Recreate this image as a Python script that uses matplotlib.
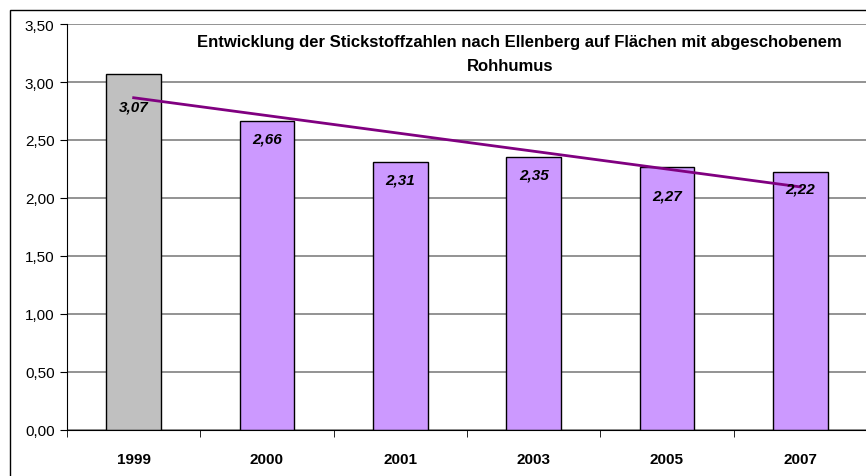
import numpy as np
import matplotlib.pyplot as plt
from matplotlib.patches import Rectangle

years = ['1999', '2000', '2001', '2003', '2005', '2007']
values = [3.07, 2.66, 2.31, 2.35, 2.27, 2.22]
bar_colors = ['#C0C0C0', '#CC99FF', '#CC99FF', '#CC99FF', '#CC99FF', '#CC99FF']
# how far (in data units) each label sits below the top of its bar
label_drop = [0.285, 0.15, 0.15, 0.15, 0.25, 0.14]
yticks = [0.0, 0.5, 1.0, 1.5, 2.0, 2.5, 3.0, 3.5]

plt.rcParams['font.family'] = ['Liberation Sans', 'DejaVu Sans']

fig = plt.figure(figsize=(8.66, 4.77), dpi=100)
ax = fig.add_axes([67/866, 46/477, 800/866, 406/477])

x = np.arange(len(years))
ax.bar(x, values, width=0.41, color=bar_colors, edgecolor='black', linewidth=1, zorder=2)

# linear trend line over the bars
k, d = np.polyfit(x, values, 1)
ax.plot(x, k*x + d, color='#800080', linewidth=2, zorder=3)

for xi, v, dr in zip(x, values, label_drop):
    ax.text(xi, v - dr, f'{v:.2f}'.replace('.', ','), ha='center', va='center',
            fontsize=11, fontweight='bold', fontstyle='italic', zorder=4)

ax.set_xlim(-0.5, len(years) - 0.5)
ax.set_ylim(0, 3.5)
ax.set_yticks(yticks)
ax.set_yticklabels([f'{t:.2f}'.replace('.', ',') for t in yticks], fontsize=11)
ax.set_xticks(x)
ax.set_xticklabels(years, fontsize=11, fontweight='bold')
ax.tick_params(axis='x', length=0, pad=16)
ax.set_xticks(np.arange(len(years) + 1) - 0.5, minor=True)
ax.tick_params(axis='x', which='minor', length=5, direction='out', color='black')
ax.tick_params(axis='y', length=5, direction='out', pad=4)
ax.yaxis.grid(True, color='#808080', linewidth=1.2, zorder=0)
ax.set_axisbelow(True)
for s in ['top', 'right']:
    ax.spines[s].set_visible(False)
ax.spines['left'].set_color('black')
ax.spines['bottom'].set_color('black')

ax.text(0.566, 0.956, 'Entwicklung der Stickstoffzahlen nach Ellenberg auf Flächen mit abgeschobenem',
        transform=ax.transAxes, ha='center', va='center', fontsize=12, fontweight='bold')
ax.text(0.554, 0.897, 'Rohhumus',
        transform=ax.transAxes, ha='center', va='center', fontsize=12, fontweight='bold')

# outer chart frame
fig.patches.append(Rectangle((10/866, -0.2), 2, 1.2 + 466/477 - 1.0, transform=fig.transFigure,
                             fill=False, edgecolor='black', linewidth=1))

fig.savefig('out.png', dpi=100)
